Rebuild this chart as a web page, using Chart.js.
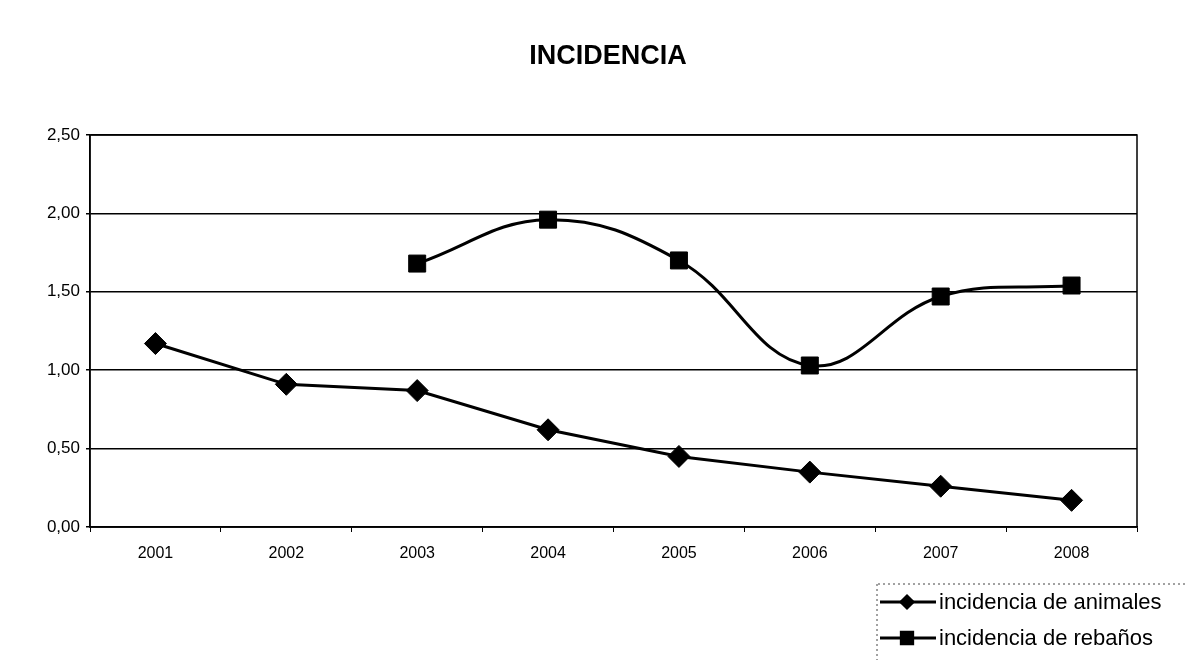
<!DOCTYPE html>
<html>
<head>
<meta charset="utf-8">
<script src="https://cdn.jsdelivr.net/npm/chart.js@4"></script>
<style>
  html, body { margin: 0; padding: 0; background: #fff; }
  #wrap { width: 1188px; height: 663px; position: relative; }
</style>
</head>
<body>
<div id="wrap"><canvas id="myChart" width="1188" height="663"></canvas></div>
<script>
'use strict'

const years = ['2001', '2002', '2003', '2004', '2005', '2006', '2007', '2008'];
const animales = [1.17, 0.91, 0.87, 0.62, 0.45, 0.35, 0.26, 0.17];
const rebanos = [null, null, 1.68, 1.96, 1.70, 1.03, 1.47, 1.54];
const yTickLabels = ['0,00', '0,50', '1,00', '1,50', '2,00', '2,50'];

const fontFamily = '"Liberation Sans", Arial, sans-serif';

// title + frame of the plot
const decorPlugin = {
  id: 'decor',
  afterDraw(chart) {
    const ctx = chart.ctx;
    const a = chart.chartArea;
    ctx.save();
    ctx.strokeStyle = '#000';
    ctx.lineWidth = 1.5;
    ctx.strokeRect(a.left, a.top, a.right - a.left, a.bottom - a.top);

    ctx.fillStyle = '#000';
    ctx.font = 'bold 27px ' + fontFamily;
    ctx.textAlign = 'center';
    ctx.textBaseline = 'middle';
    ctx.fillText('INCIDENCIA', 608, 57);
    ctx.restore();
  }
};

// legend at lower right, drawn from the datasets
const legendPlugin = {
  id: 'sideLegend',
  afterDraw(chart) {
    const ctx = chart.ctx;
    ctx.save();
    ctx.strokeStyle = '#444';
    ctx.lineWidth = 1;
    ctx.setLineDash([2, 3]);
    ctx.beginPath();
    ctx.moveTo(878, 584); ctx.lineTo(1188, 584);
    ctx.moveTo(877, 584); ctx.lineTo(877, 660);
    ctx.stroke();
    ctx.setLineDash([]);

    chart.data.datasets.forEach((ds, i) => {
      const y = 602 + i * 36;
      ctx.strokeStyle = '#000';
      ctx.lineWidth = 3;
      ctx.beginPath();
      ctx.moveTo(880, y);
      ctx.lineTo(936, y);
      ctx.stroke();
      Chart.helpers.drawPoint(ctx, {
        pointStyle: ds.pointStyle,
        radius: i === 0 ? 6 : 8,
        borderWidth: 1
      }, 907, y);
      ctx.fillStyle = '#000';
      ctx.font = '22px ' + fontFamily;
      ctx.textAlign = 'left';
      ctx.textBaseline = 'middle';
      ctx.fillText(ds.label, 939, y + 1);
    });
    ctx.restore();
  }
};

new Chart(document.getElementById('myChart'), {
  type: 'line',
  data: {
    labels: years,
    datasets: [{
      label: 'incidencia de animales',
      data: animales,
      borderColor: '#000',
      backgroundColor: '#000',
      borderWidth: 3,
      tension: 0,
      pointStyle: 'rectRot',
      pointRadius: 11,
      pointBorderWidth: 1
    }, {
      label: 'incidencia de rebaños',
      data: rebanos,
      borderColor: '#000',
      backgroundColor: '#000',
      borderWidth: 3,
      tension: 0.4,
      pointStyle: 'rect',
      pointRadius: 12,
      pointBorderWidth: 1
    }]
  },
  options: {
    responsive: false,
    animation: false,
    layout: { padding: { left: 0, right: 51, top: 135, bottom: 0 } },
    plugins: {
      legend: { display: false },
      title: { display: false },
      tooltip: { enabled: false }
    },
    scales: {
      x: {
        offset: true,
        afterFit(scale) { scale.height = 136; },
        grid: {
          offset: true,
          drawOnChartArea: false,
          drawTicks: true,
          tickLength: 5,
          color: '#000'
        },
        border: { display: true, color: '#000', width: 1.5 },
        ticks: {
          color: '#000',
          padding: 12,
          font: { family: fontFamily, size: 16 }
        }
      },
      y: {
        min: 0,
        max: 2.5,
        afterFit(scale) { scale.width = 90; },
        grid: {
          color: '#000',
          lineWidth: 1.5,
          drawTicks: true,
          tickLength: 4
        },
        border: { display: true, color: '#000', width: 1.5 },
        ticks: {
          stepSize: 0.5,
          color: '#000',
          padding: 6,
          font: { family: fontFamily, size: 17 },
          callback: (v) => yTickLabels[Math.round(v / 0.5)]
        }
      }
    }
  },
  plugins: [decorPlugin, legendPlugin]
});
</script>
</body>
</html>
